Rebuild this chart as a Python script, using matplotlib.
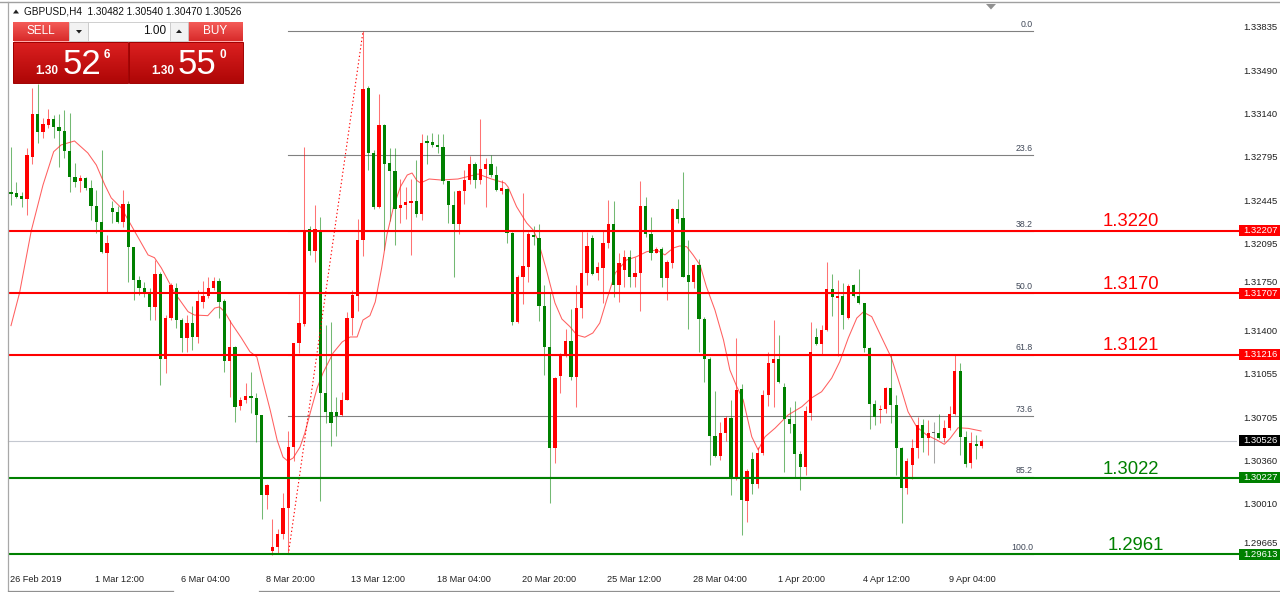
import matplotlib
matplotlib.use('Agg')
import matplotlib.pyplot as plt
from matplotlib.patches import Rectangle, Polygon
from matplotlib.colors import LinearSegmentedColormap
import numpy as np

# ---------------- data ----------------
symbol_header = "GBPUSD,H4  1.30482 1.30540 1.30470 1.30526"

opens = [
1.32517,1.32509,1.32490,1.32464,1.32803,1.33143,1.33004,1.33057,1.33105,1.33044,
1.33009,1.32849,1.32643,1.32608,1.32635,1.32549,1.32410,1.32277,1.32028,1.32394,
1.32362,1.32282,1.32421,1.32082,1.31814,1.31753,1.31707,1.31600,1.31860,1.31181,
1.31512,1.31747,1.31493,1.31352,1.31467,1.31360,1.31640,1.31688,1.31747,1.31806,
1.31646,1.31165,1.31280,1.30806,1.30852,1.30887,1.30871,1.30728,1.30091,1.29643,
1.29671,1.29779,1.29982,1.30476,1.31305,1.31460,1.32219,1.32048,1.32213,1.30904,
1.30755,1.30755,1.30728,1.30855,1.31506,1.31685,1.32135,1.33355,1.32829,1.32400,
1.33059,1.32753,1.32688,1.32390,1.32417,1.32428,1.32444,1.32346,1.32929,1.32924,
1.32897,1.32878,1.32607,1.32417,1.32265,1.32525,1.32617,1.32742,1.32612,1.32707,
1.32747,1.32653,1.32525,1.32541,1.32188,1.31480,1.31835,1.31915,1.32175,1.32148,
1.31605,1.31274,1.30464,1.31044,1.31204,1.31327,1.31039,1.31587,1.31873,1.32148,
1.31867,1.31907,1.32113,1.32263,1.31774,1.31894,1.31996,1.31840,1.31873,1.32407,
1.32183,1.32033,1.32060,1.31827,1.31953,1.32380,1.32308,1.31854,1.31800,1.31934,
1.31498,1.31178,1.30563,1.30402,1.30584,1.30704,1.30223,1.30937,1.30044,1.30379,
1.30176,1.30425,1.30892,1.31146,1.31181,1.30959,1.30700,1.30657,1.30417,1.30318,
1.30745,1.31360,1.31299,1.31414,1.31742,1.31673,1.31689,1.31507,1.31774,1.31689,
1.31627,1.31267,1.30818,1.30772,1.30780,1.30946,1.30812,1.30470,1.30144,1.30331,
1.30470,1.30652,1.30545,1.30585,1.30585,1.30550,1.30625,1.30737,1.31085,1.30558,
1.30344,1.30497,1.30482]

highs = [
1.32883,1.32603,1.32522,1.32870,1.33356,1.33383,1.33111,1.33185,1.33137,1.33143,
1.33177,1.33151,1.32750,1.32656,1.32643,1.32616,1.32536,1.32857,1.32175,1.32448,
1.32410,1.32536,1.32448,1.32082,1.31849,1.31801,1.31747,1.31975,1.31876,1.31533,
1.31787,1.31787,1.31507,1.31533,1.31608,1.31734,1.31806,1.31841,1.31841,1.31828,
1.31662,1.31493,1.31288,1.30879,1.30986,1.31079,1.30905,1.30728,1.30178,1.29900,
1.29820,1.30104,1.30606,1.31311,1.31704,1.32883,1.32246,1.32417,1.32319,1.31452,
1.31479,1.30877,1.30918,1.31555,1.31731,1.32300,1.33807,1.33366,1.32856,1.33303,
1.33067,1.32869,1.32869,1.32625,1.32558,1.32625,1.32775,1.32986,1.32978,1.32991,
1.32986,1.32986,1.32607,1.32531,1.32536,1.32693,1.32807,1.32761,1.33105,1.32796,
1.32815,1.32726,1.32617,1.32549,1.32201,1.31854,1.32509,1.32201,1.32247,1.32263,
1.31774,1.31720,1.31039,1.31231,1.31418,1.31579,1.31774,1.32215,1.32201,1.32175,
1.31961,1.32215,1.32455,1.32450,1.32028,1.32054,1.32054,1.32001,1.32610,1.32477,
1.32316,1.32076,1.32076,1.31974,1.32388,1.32461,1.32682,1.32135,1.31942,1.31979,
1.31520,1.31194,1.30926,1.30678,1.30723,1.30852,1.31346,1.30980,1.30295,1.30433,
1.30478,1.30932,1.31240,1.31494,1.31374,1.30986,1.30799,1.30844,1.30443,1.30807,
1.31480,1.31427,1.31454,1.31956,1.31860,1.31815,1.31788,1.31780,1.31780,1.31903,
1.31627,1.31280,1.30852,1.30812,1.30959,1.31213,1.30892,1.30478,1.30385,1.30540,
1.30719,1.30700,1.30692,1.30679,1.30737,1.30692,1.30807,1.31213,1.31146,1.30604,
1.30598,1.30572,1.30540]

lows = [
1.32416,1.32469,1.32402,1.32335,1.32742,1.32910,1.32950,1.33036,1.32950,1.32723,
1.32790,1.32522,1.32563,1.32522,1.32536,1.32295,1.32188,1.32028,1.31707,1.32269,
1.32269,1.32242,1.31801,1.31654,1.31694,1.31680,1.31493,1.31493,1.30972,1.31066,
1.31493,1.31427,1.31234,1.31240,1.31253,1.31306,1.31587,1.31672,1.31734,1.31512,
1.31074,1.30879,1.30673,1.30772,1.30825,1.30745,1.30518,1.29896,1.29977,1.29608,
1.29616,1.29738,1.29613,1.30362,1.31229,1.31446,1.32016,1.31956,1.30042,1.30665,
1.30484,1.30565,1.30720,1.30850,1.31370,1.31568,1.32010,1.32693,1.32381,1.32395,
1.32056,1.32287,1.32097,1.32273,1.32300,1.32016,1.32319,1.32292,1.32747,1.32878,
1.32834,1.32585,1.32273,1.31839,1.32184,1.32422,1.32585,1.32552,1.32585,1.32400,
1.32639,1.32525,1.32504,1.32113,1.31453,1.31466,1.31621,1.31800,1.32094,1.31488,
1.31052,1.30023,1.30344,1.30905,1.31194,1.31012,1.30798,1.31506,1.31774,1.31854,
1.31814,1.31627,1.32068,1.31680,1.31640,1.31760,1.31760,1.31760,1.31568,1.32161,
1.31974,1.32028,1.31760,1.31653,1.31907,1.32268,1.31835,1.31418,1.31747,1.31239,
1.30998,1.30330,1.30397,1.30370,1.30525,1.30090,1.30210,1.29769,1.29870,1.30096,
1.30144,1.30411,1.30807,1.30799,1.30986,1.30278,1.30585,1.30237,1.30131,1.30251,
1.30692,1.31293,1.31213,1.31406,1.31528,1.31208,1.31422,1.31502,1.31681,1.31619,
1.31240,1.30620,1.30652,1.30665,1.30745,1.30665,1.30251,1.29863,1.30096,1.30219,
1.30385,1.30438,1.30411,1.30344,1.30540,1.30513,1.30612,1.30732,1.30411,1.30318,
1.30304,1.30379,1.30470]

closes = [
1.32506,1.32482,1.32464,1.32817,1.33143,1.33004,1.33062,1.33105,1.33044,1.33009,
1.32849,1.32643,1.32603,1.32635,1.32549,1.32410,1.32277,1.32036,1.32108,1.32362,
1.32282,1.32421,1.32082,1.31814,1.31747,1.31707,1.31600,1.31860,1.31181,1.31512,
1.31774,1.31493,1.31352,1.31467,1.31360,1.31646,1.31688,1.31747,1.31806,1.31640,
1.31165,1.31280,1.30798,1.30852,1.30887,1.30871,1.30732,1.30091,1.30172,1.29671,
1.29779,1.29982,1.30476,1.31305,1.31473,1.32205,1.32043,1.32219,1.30904,1.30755,
1.30665,1.30720,1.30855,1.31506,1.31690,1.32135,1.33349,1.32829,1.32400,1.33059,
1.32747,1.32688,1.32381,1.32417,1.32436,1.32444,1.32346,1.32916,1.32916,1.32897,
1.32878,1.32607,1.32417,1.32265,1.32531,1.32617,1.32742,1.32612,1.32707,1.32747,
1.32653,1.32536,1.32552,1.32188,1.31480,1.31835,1.31926,1.32183,1.32156,1.31605,
1.31274,1.30464,1.31025,1.31212,1.31327,1.31033,1.31587,1.31873,1.32086,1.31862,
1.31915,1.32108,1.32263,1.31774,1.31947,1.31996,1.31835,1.31873,1.32407,1.32183,
1.32033,1.32060,1.31827,1.31961,1.32380,1.32300,1.31840,1.31800,1.31934,1.31498,
1.31178,1.30563,1.30402,1.30584,1.30704,1.30223,1.30932,1.30050,1.30285,1.30176,
1.30425,1.30892,1.31146,1.31181,1.30994,1.30700,1.30657,1.30417,1.30318,1.30764,
1.31234,1.31299,1.31414,1.31742,1.31681,1.31689,1.31534,1.31769,1.31689,1.31627,
1.31267,1.30818,1.30719,1.30780,1.30946,1.30812,1.30470,1.30144,1.30363,1.30470,
1.30652,1.30545,1.30585,1.30585,1.30545,1.30625,1.30737,1.31085,1.30558,1.30336,
1.30505,1.30486,1.30526]

# moving average (bar position, price)
ma_idx = [0, 1.6, 3.8, 6, 8, 9.4, 11.9, 14.4, 16, 17.6, 18.8, 20.7, 22.3, 25.7, 26.9,
          28.2, 30.7, 33.2, 34.4, 36.9, 38.2, 39.1, 40.1, 41.3, 43.2, 44.8, 46.1, 47.3,
          48.6, 49.9, 51, 51.9, 52.9, 54.2, 55.1, 56.1, 57.4, 58.5, 60.4, 62.1, 63.6,
          64.9, 66, 67.3, 68.3, 69.5, 70.5, 71.7, 73, 74.3, 75.2, 76.1, 76.8, 78.4, 80.6,
          83.8, 85.7, 87.6, 90.1, 92.6, 93.2, 94.8, 96.7, 97.9, 98.8, 100.4, 102, 103.3,
          104.8, 106.1, 107.6, 109.1, 110.4, 111.7, 113.3, 115.4, 117.3, 119.2, 121.1,
          122.6, 124.2, 125.4, 126.7, 127.9, 129.2, 130.4, 132, 133.6, 134.8, 136.1,
          137.3, 138.9, 140.1, 141.4, 143.3, 145.7, 148.3, 150.1, 152, 153.9, 155.4,
          157, 158.6, 159.8, 161.4, 163.3, 165.1, 166.7, 168.2, 169.8, 171.7, 173.6,
          175, 176.1, 177.6, 179.5, 181.9]
ma_val = [1.31448, 1.31710, 1.32209, 1.32576, 1.32843, 1.32897, 1.32929, 1.32833, 1.32736,
          1.32576, 1.32472, 1.32391, 1.32271, 1.32015, 1.31993, 1.31910, 1.31710, 1.31560,
          1.31533, 1.31528, 1.31589, 1.31598, 1.31557, 1.31469, 1.31349, 1.31239, 1.31197,
          1.30988, 1.30771, 1.30531, 1.30394, 1.30362, 1.30386, 1.30475, 1.30587, 1.30747,
          1.30948, 1.31068, 1.31229, 1.31317, 1.31357, 1.31357, 1.31493, 1.31528, 1.31638,
          1.31910, 1.32178, 1.32395, 1.32560, 1.32656, 1.32672, 1.32612, 1.32592, 1.32624,
          1.32616, 1.32624, 1.32644, 1.32664, 1.32624, 1.32592, 1.32560, 1.32402, 1.32271,
          1.32215, 1.32135, 1.31894, 1.31630, 1.31501, 1.31440, 1.31373, 1.31355, 1.31389,
          1.31469, 1.31654, 1.31870, 1.31974, 1.32001, 1.32041, 1.32055, 1.32015, 1.32071,
          1.32087, 1.32081, 1.32015, 1.31934, 1.31760, 1.31573, 1.31333, 1.31092, 1.30958,
          1.30852, 1.30557, 1.30451, 1.30557, 1.30627, 1.30731, 1.30798, 1.30868, 1.30918,
          1.31028, 1.31159, 1.31349, 1.31509, 1.31557, 1.31520, 1.31349, 1.31188, 1.30972,
          1.30758, 1.30637, 1.30571, 1.30531, 1.30496, 1.30544, 1.30629, 1.30624, 1.30603]

x_tick_bars = [0, 16, 32, 48, 64, 80, 96, 112, 128, 144, 160, 176]
x_tick_labels = ["26 Feb 2019", "1 Mar 12:00", "6 Mar 04:00", "8 Mar 20:00",
                 "13 Mar 12:00", "18 Mar 04:00", "20 Mar 20:00", "25 Mar 12:00",
                 "28 Mar 04:00", "1 Apr 20:00", "4 Apr 12:00", "9 Apr 04:00"]
y_ticks = [1.33835, 1.33490, 1.33140, 1.32795, 1.32445, 1.32095, 1.31750,
           1.31400, 1.31055, 1.30705, 1.30360, 1.30010, 1.29665]

red_levels = [1.32207, 1.31707, 1.31216]
red_labels = ["1.3220", "1.3170", "1.3121"]
green_levels = [1.30227, 1.29613]
green_labels = ["1.3022", "1.2961"]
current_price = 1.30526

fib_levels = [0.0, 23.6, 38.2, 50.0, 61.8, 73.6, 85.2, 100.0]
fib_high, fib_high_bar = 1.33807, 66
fib_low, fib_low_bar = 1.29613, 52

sell_big, sell_small, sell_frac = "52", "1.30", "6"
buy_big, buy_small, buy_frac = "55", "1.30", "0"
lot = "1.00"

# ---------------- figure ----------------
W, H = 1280, 592
FONT = ['Liberation Sans', 'DejaVu Sans']
plt.rcParams['font.family'] = FONT

fig = plt.figure(figsize=(W / 100, H / 100), dpi=100)
fig.patch.set_facecolor('white')

L_PX, R_PX, T_PX, B_PX = 8, 1232, 8, 565
ax = fig.add_axes([L_PX / W, 1 - B_PX / H, (R_PX - L_PX) / W, (B_PX - T_PX) / H])
BAR_PX = 5.333
x0_bar = -(11 - L_PX) / BAR_PX
x1_bar = x0_bar + (R_PX - L_PX) / BAR_PX
ax.set_xlim(x0_bar, x1_bar)
PPP = 0.0000802  # price per pixel
ax.set_ylim(1.33835 - (B_PX - 28) * PPP, 1.33835 + (28 - T_PX) * PPP)
ax.axis('off')

n = min(len(opens), len(highs), len(lows), len(closes))
o = np.array(opens[:n]); h = np.array(highs[:n]); l = np.array(lows[:n]); c = np.array(closes[:n])
xb = np.arange(n)
cols = np.where(c > o, '#ff0000', np.where(c < o, '#008000', '#606060'))

ax.vlines(xb, l, h, colors=cols, lw=0.75, alpha=0.55, zorder=3)
body_b = np.minimum(o, c)
body_h = np.maximum(np.abs(c - o), 0.00008)
ax.bar(xb, body_h, bottom=body_b, width=0.58, color=cols, lw=0, zorder=4)

# moving average
m = min(len(ma_idx), len(ma_val))
ax.plot(ma_idx[:m], ma_val[:m], color='#ff2a2a', lw=0.75, alpha=0.75, zorder=3.5)

ytr = ax.get_yaxis_transform()
xs = (10 - L_PX) / (R_PX - L_PX)
xe = (1239 - L_PX) / (R_PX - L_PX)

# current price line
ax.plot([0, (1236 - L_PX) / (R_PX - L_PX)], [current_price] * 2, transform=ytr,
        color='#c4c8d0', lw=0.8, clip_on=False, zorder=2)

# fibonacci
fib_right = (1033 - 11) / BAR_PX
rng = fib_high - fib_low
for lev in fib_levels:
    p = fib_high - lev / 100.0 * rng
    ax.plot([fib_low_bar, fib_right], [p, p], color='#808080', lw=0.8, zorder=2)
    ax.annotate(f"{lev:.1f}", xy=(fib_right, p), xytext=(0, 1.6), textcoords='offset points',
                ha='right', va='bottom', fontsize=6.3, color='#404858', zorder=7)
ax.plot([fib_low_bar, fib_high_bar], [fib_low, fib_high], color='#ff0000', lw=0.8,
        ls=(0, (1.2, 2.2)), zorder=5)

# horizontal S/R lines
for p in red_levels:
    ax.plot([xs, xe], [p, p], transform=ytr, color='#ff0000', lw=1.5, clip_on=False, zorder=6)
for p in green_levels:
    ax.plot([xs, xe], [p, p], transform=ytr, color='#008000', lw=1.5, clip_on=False, zorder=6)

lab_bar = (1103 - 11) / BAR_PX
for p, t in zip(red_levels, red_labels):
    ax.annotate(t, xy=(lab_bar, p), xytext=(0, 3.4), textcoords='offset points',
                ha='left', va='baseline', fontsize=13.3, color='#ff0000', zorder=7)
for p, t, dx in zip(green_levels, green_labels, [0, 3.6]):
    ax.annotate(t, xy=(lab_bar, p), xytext=(dx, 3.0), textcoords='offset points',
                ha='left', va='baseline', fontsize=13.3, color='#008000', zorder=7)

# price scale
tx = (1243 - L_PX) / (R_PX - L_PX)
box_prices = red_levels + green_levels + [current_price]
for p in y_ticks:
    near = [b for b in box_prices if abs(p - b) < 12 * PPP]
    if near:
        # tick label sits just above the coloured price box (partly hidden in the original)
        b = near[0]
        ax.annotate(f"{p:.5f}", xy=(tx, b), xycoords=ytr, xytext=(0, 4.3),
                    textcoords='offset points', ha='left', va='bottom', fontsize=6.8,
                    color='#202020', annotation_clip=False, zorder=6)
    else:
        ax.text(tx, p, f"{p:.5f}", transform=ytr, ha='left', va='center', fontsize=6.8,
                color='#202020', clip_on=False, zorder=6)

bx0 = (1239 - L_PX) / (R_PX - L_PX)
bw = (1280 - 1239) / (R_PX - L_PX)
bh = 11 * PPP
def price_box(p, fc):
    ax.add_patch(Rectangle((bx0, p - bh / 2), bw, bh, transform=ytr, facecolor=fc,
                           edgecolor='none', clip_on=False, zorder=8))
    ax.text(tx, p, f"{p:.5f}", transform=ytr, ha='left', va='center', fontsize=6.8,
            color='white', clip_on=False, zorder=9)
for p in red_levels:
    price_box(p, '#ff0000')
for p in green_levels:
    price_box(p, '#008000')
price_box(current_price, '#000000')

# time scale
for b, t in zip(x_tick_bars, x_tick_labels):
    ax.text(b - 0.2, -(579 - B_PX) / (B_PX - T_PX), t, transform=ax.get_xaxis_transform(),
            ha='left', va='center', fontsize=6.6, color='#202020', clip_on=False)

# ---------------- overlay (frame + trade panel) ----------------
ov = fig.add_axes([0, 0, 1, 1])
ov.set_zorder(10)
ov.patch.set_alpha(0)
ov.axis('off')

def grad_rect(x0, y0, x1, y1, ctop, cbot, edge=None):
    cm = LinearSegmentedColormap.from_list('g', [ctop, cbot])
    g = np.linspace(0, 1, 64).reshape(-1, 1)
    ov.imshow(g, cmap=cm, extent=(x0, x1, y1, y0), origin='upper', aspect='auto',
              interpolation='bilinear', zorder=1)
    if edge:
        ov.add_patch(Rectangle((x0, y0), x1 - x0, y1 - y0, fill=False, edgecolor=edge, lw=0.7, zorder=2))

# frame lines
ov.plot([0, W], [1.5, 1.5], color='#a0a0a0', lw=1.0)
ov.plot([7.5, 7.5], [2, 590], color='#a8a8a8', lw=0.9)
ov.plot([8, 173], [590.5, 590.5], color='#909090', lw=0.9)
ov.plot([259, W], [590.5, 590.5], color='#909090', lw=0.9)
ov.add_patch(Polygon([[986, 4], [996, 4], [991, 9.5]], closed=True, facecolor='#909090', edgecolor='none'))

# header
ov.add_patch(Polygon([[13, 13.5], [19, 13.5], [16, 9.5]], closed=True, facecolor='#202020', edgecolor='none'))
ov.text(24, 11.5, symbol_header, ha='left', va='center', fontsize=7.2, color='#101010')

# trade panel
grad_rect(13, 22, 69, 41, '#f45c58', '#d82a2a')
grad_rect(188, 22, 243, 41, '#f45c58', '#d82a2a')
ov.add_patch(Rectangle((69, 22), 19, 19, facecolor='#f2f2f2', edgecolor='#c8c8c8', lw=0.6, zorder=2))
ov.add_patch(Rectangle((88, 22), 82, 19, facecolor='white', edgecolor='#c8c8c8', lw=0.6, zorder=2))
ov.add_patch(Rectangle((170, 22), 18, 19, facecolor='#f2f2f2', edgecolor='#c8c8c8', lw=0.6, zorder=2))
ov.add_patch(Polygon([[76, 30], [82, 30], [79, 33.5]], closed=True, facecolor='#202020', zorder=3))
ov.add_patch(Polygon([[176, 33], [182, 33], [179, 29.5]], closed=True, facecolor='#202020', zorder=3))
ov.plot([14, 68], [40.5, 40.5], color='#ff9a9a', lw=0.6, zorder=3)
ov.plot([189, 242], [40.5, 40.5], color='#ff9a9a', lw=0.6, zorder=3)
ov.text(41, 31.5, "SELL", ha='center', va='center', fontsize=8.5, color='white', zorder=4)
ov.text(215.5, 31.5, "BUY", ha='center', va='center', fontsize=8.5, color='white', zorder=4)
ov.text(166, 31.5, lot, ha='right', va='center', fontsize=8.5, color='#101010', zorder=4)

grad_rect(13, 42, 128, 83, '#dc2020', '#ae0606', edge='#a00000')
grad_rect(129, 42, 243, 83, '#dc2020', '#ae0606', edge='#a00000')
ov.text(35, 74.5, sell_small, ha='left', va='baseline', fontsize=8.5, color='white', zorder=4, weight='bold')
ov.text(63, 74.5, sell_big, ha='left', va='baseline', fontsize=25, color='white', zorder=4)
ov.text(104, 58, sell_frac, ha='left', va='baseline', fontsize=8.5, color='white', zorder=4, weight='bold')
ov.text(151, 74.5, buy_small, ha='left', va='baseline', fontsize=8.5, color='white', zorder=4, weight='bold')
ov.text(178, 74.5, buy_big, ha='left', va='baseline', fontsize=25, color='white', zorder=4)
ov.text(220, 58, buy_frac, ha='left', va='baseline', fontsize=8.5, color='white', zorder=4, weight='bold')

ov.set_xlim(0, W)
ov.set_ylim(H, 0)

fig.savefig('out.png', dpi=100, facecolor='white')
